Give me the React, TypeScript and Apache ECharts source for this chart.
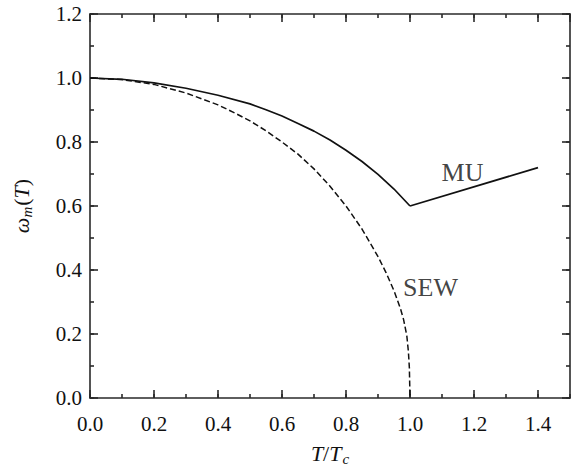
import React, { useEffect, useRef } from "react";
import * as echarts from "echarts";

// Reduced temperature T/Tc
const muT = [0, 0.1, 0.2, 0.3, 0.4, 0.5, 0.55, 0.6, 0.65, 0.7, 0.75, 0.8, 0.85, 0.9, 0.95, 1.0];
const muOmega = [1.0, 0.996, 0.985, 0.968, 0.946, 0.919, 0.901, 0.881, 0.858, 0.834, 0.806, 0.774, 0.739, 0.699, 0.653, 0.6];
// MU branch above Tc (straight segment)
const muHighT = [1.0, 1.4];
const muHighOmega = [0.6, 0.72];

const sewT = [0, 0.1, 0.2, 0.3, 0.4, 0.45, 0.5, 0.55, 0.6, 0.65, 0.7, 0.75, 0.8, 0.85, 0.9, 0.925, 0.95, 0.97, 0.98, 0.99, 0.995, 0.998, 1.0];
const sewOmega = [1.0, 0.995, 0.98, 0.953, 0.916, 0.892, 0.866, 0.835, 0.8, 0.762, 0.716, 0.662, 0.6, 0.528, 0.442, 0.392, 0.335, 0.28, 0.245, 0.195, 0.145, 0.095, 0.0];

// Curve labels placed in data coordinates
const curveLabels = [
  { name: "MU", t: 1.164, omega: 0.705 },
  { name: "SEW", t: 1.064, omega: 0.345 },
];

const SERIF = "Liberation Serif";
const INK = "#111";
const AXIS = "#2a2a2a";

const pairs = (xs: number[], ys: number[]) => xs.map((x, i) => [x, ys[i]]);

export default function App() {
  const ref = useRef<HTMLDivElement>(null);

  useEffect(() => {
    if (!ref.current) return;
    const chart = echarts.init(ref.current, null, { renderer: "svg" });

    const lineStyle = { color: AXIS, width: 1.6 };
    const hidden = { show: false };
    const frameLine = { show: true, onZero: false, lineStyle };
    const noLine = { show: false, onZero: false };
    const majorTick = { show: true, inside: true, length: 8, lineStyle };
    const minorTick = { show: true, inside: true, length: 4, lineStyle };

    const xMajor = { type: "value", min: 0, max: 1.5, interval: 0.2, splitLine: hidden };
    const xMinor = { type: "value", min: 0, max: 1.5, interval: 0.1, splitLine: hidden, axisLabel: hidden, axisLine: noLine, axisTick: minorTick };
    const yMajor = { type: "value", min: 0, max: 1.2, interval: 0.2, splitLine: hidden };
    const yMinor = { type: "value", min: 0, max: 1.2, interval: 0.1, splitLine: hidden, axisLabel: hidden, axisLine: noLine, axisTick: minorTick };

    chart.setOption({
      animation: false,
      backgroundColor: "#fff",
      grid: { left: 90, right: 1, top: 14, bottom: 69, containLabel: false, outerBoundsMode: "none" },
      xAxis: [
        {
          ...xMajor,
          position: "bottom",
          axisLine: frameLine,
          axisTick: majorTick,
          axisLabel: {
            show: true,
            margin: 15,
            fontFamily: SERIF,
            fontSize: 21,
            color: INK,
            showMaxLabel: false,
            formatter: (v: number) => (v > 1.45 ? "" : v.toFixed(1)),
          },
          name: "{i|T}{n|/}{i|T}{s|c}",
          nameLocation: "middle",
          nameGap: 42,
          nameTextStyle: {
            rich: {
              i: { fontFamily: SERIF, fontStyle: "italic", fontSize: 22, color: INK, lineHeight: 26 },
              n: { fontFamily: SERIF, fontSize: 22, color: INK, lineHeight: 26 },
              s: { fontFamily: SERIF, fontStyle: "italic", fontSize: 15, color: INK, lineHeight: 26, verticalAlign: "bottom", padding: [10, 0, 0, 1] },
            },
          },
        },
        { ...xMinor, position: "bottom" },
        { ...xMajor, position: "top", axisLine: frameLine, axisTick: majorTick, axisLabel: hidden },
        { ...xMinor, position: "top" },
      ],
      yAxis: [
        {
          ...yMajor,
          position: "left",
          axisLine: frameLine,
          axisTick: majorTick,
          axisLabel: {
            show: true,
            margin: 8,
            fontFamily: SERIF,
            fontSize: 21,
            color: INK,
            formatter: (v: number) => v.toFixed(1),
          },
          name: "{w|ω}{s|m}{n|(}{i|T}{n|)}",
          nameLocation: "middle",
          nameRotate: 90,
          nameGap: 56,
          nameTextStyle: {
            rich: {
              w: { fontFamily: SERIF, fontStyle: "italic", fontSize: 22, color: INK, lineHeight: 26 },
              i: { fontFamily: SERIF, fontStyle: "italic", fontSize: 22, color: INK, lineHeight: 26 },
              n: { fontFamily: SERIF, fontSize: 22, color: INK, lineHeight: 26 },
              s: { fontFamily: SERIF, fontStyle: "italic", fontSize: 15, color: INK, lineHeight: 26, verticalAlign: "bottom", padding: [10, 1, 0, 0] },
            },
          },
        },
        { ...yMinor, position: "left" },
        { ...yMajor, position: "right", axisLine: frameLine, axisTick: majorTick, axisLabel: hidden },
        { ...yMinor, position: "right" },
      ],
      series: [
        {
          name: "MU",
          type: "line",
          data: pairs(muT, muOmega),
          smooth: false,
          showSymbol: false,
          symbol: "none",
          lineStyle: { color: INK, width: 1.7, join: "round" },
          silent: true,
        },
        {
          name: "MU above Tc",
          type: "line",
          data: pairs(muHighT, muHighOmega),
          showSymbol: false,
          symbol: "none",
          lineStyle: { color: INK, width: 1.7 },
          silent: true,
        },
        {
          name: "SEW",
          type: "line",
          data: pairs(sewT, sewOmega),
          smooth: false,
          showSymbol: false,
          symbol: "none",
          lineStyle: { color: INK, width: 1.5, type: [6, 3], join: "round" },
          silent: true,
        },
        {
          name: "labels",
          type: "scatter",
          symbolSize: 0,
          silent: true,
          data: curveLabels.map((c) => ({ value: [c.t, c.omega], name: c.name })),
          label: {
            show: true,
            position: "inside",
            formatter: (p: any) => p.name,
            fontFamily: SERIF,
            fontSize: 26,
            color: INK,
          },
        },
      ],
    });

    return () => chart.dispose();
  }, []);

  return (
    <div
      ref={ref}
      style={{ position: "fixed", left: 0, top: 0, width: 571, height: 467, background: "#fff" }}
    />
  );
}
